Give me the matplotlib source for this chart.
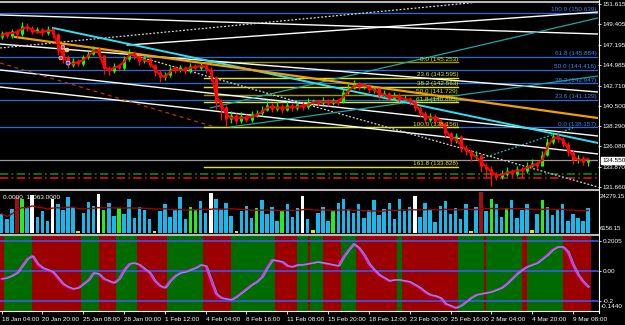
import numpy as np
import pandas as pd
import matplotlib.pyplot as plt
from matplotlib.lines import Line2D

plt.rcParams['font.family'] = ['Liberation Sans', 'DejaVu Sans']

# ------------------------------------------------------------------ data
time_labels = ["18 Jan 04:00", "20 Jan 20:00", "25 Jan 08:00", "28 Jan 00:00",
               "1 Feb 12:00", "4 Feb 04:00", "8 Feb 16:00", "11 Feb 08:00",
               "15 Feb 20:00", "18 Feb 12:00", "23 Feb 00:00", "25 Feb 16:00",
               "2 Mar 04:00", "4 Mar 20:00", "9 Mar 08:00"]
bars_per_label = 8

first_open = 148.0
closes = [148.4, 148.1, 148.7, 148.3, 149.2, 149.0, 148.6, 148.9, 148.4, 148.9,
          148.3, 146.6, 145.8, 145.0, 145.4, 145.1, 145.8, 146.2, 146.7, 146.0,
          144.6, 144.3, 144.9, 144.6, 145.6, 146.3, 145.9, 145.4, 145.7, 145.0,
          144.2, 143.7, 143.9, 144.5, 144.4, 144.7, 144.3, 144.9, 144.6, 145.0,
          144.5, 143.6, 140.9, 140.4, 139.1, 139.5, 138.9, 139.4, 139.0, 139.6,
          139.7, 140.1, 140.6, 140.2, 140.5, 140.1, 140.6, 140.3, 140.7, 140.4,
          140.9, 141.0, 140.8, 141.2, 140.8, 141.1, 140.9, 142.0, 142.5, 142.9,
          142.6, 142.7, 142.2, 142.4, 141.7, 141.9, 141.3, 141.7, 141.2, 141.4,
          140.9, 140.3, 139.7, 139.0, 139.4, 138.9, 138.6, 137.5, 136.8, 137.2,
          135.9, 135.6, 135.0, 135.2, 134.0, 133.6, 133.0, 132.8, 133.1, 133.4,
          133.1, 133.6, 133.4, 134.0, 134.3, 134.0, 135.2, 136.6, 137.2, 136.9,
          136.4, 135.5, 134.6, 134.8, 134.4, 134.55]
highs = [148.7, 148.6, 148.9, 148.9, 149.6, 149.5, 149.2, 149.1, 149.0, 149.2,
         149.0, 148.4, 146.9, 146.0, 145.7, 145.6, 146.0, 146.5, 147.0, 146.9,
         146.1, 144.9, 145.2, 145.1, 145.9, 146.7, 146.5, 146.1, 146.0, 145.8,
         145.1, 144.4, 144.2, 144.8, 144.8, 145.0, 144.9, 145.2, 145.1, 145.3,
         145.2, 144.7, 143.8, 141.3, 140.6, 139.9, 139.7, 139.8, 139.6, 139.9,
         140.1, 140.5, 141.0, 140.8, 141.0, 140.7, 141.0, 140.8, 141.0, 140.9,
         141.4, 141.3, 141.2, 141.5, 141.3, 141.4, 141.3, 142.3, 142.9, 143.3,
         143.1, 143.0, 142.9, 142.7, 142.5, 142.2, 142.0, 142.0, 141.9, 141.7,
         141.5, 141.1, 140.5, 139.9, 139.7, 139.6, 139.1, 138.8, 137.7, 137.6,
         137.3, 136.2, 135.8, 135.6, 135.3, 134.3, 133.9, 133.3, 133.5, 133.8,
         133.6, 134.0, 133.8, 134.4, 134.7, 134.5, 135.6, 137.0, 137.6, 137.5,
         137.1, 136.6, 135.7, 135.1, 135.0, 134.8]
lows = [147.8, 147.9, 147.9, 148.0, 148.1, 148.7, 148.3, 148.4, 148.1, 148.2,
        147.9, 146.1, 145.2, 144.6, 144.7, 144.8, 144.9, 145.6, 146.0, 145.7,
        144.0, 143.9, 144.1, 144.3, 144.4, 145.4, 145.6, 145.0, 145.2, 144.7,
        143.8, 143.1, 143.3, 143.7, 144.1, 144.2, 144.0, 144.1, 144.3, 144.4,
        144.1, 143.2, 140.2, 139.0, 138.3, 138.6, 138.5, 138.6, 138.7, 138.8,
        139.3, 139.5, 139.9, 139.8, 139.9, 139.7, 139.9, 140.0, 140.1, 140.1,
        140.2, 140.6, 140.5, 140.6, 140.5, 140.6, 140.6, 140.8, 141.8, 142.3,
        142.2, 142.3, 141.9, 141.9, 141.3, 141.4, 141.0, 141.1, 140.9, 141.0,
        140.6, 139.9, 139.3, 138.6, 138.8, 138.5, 138.2, 137.1, 136.3, 136.5,
        135.5, 135.1, 134.5, 134.7, 133.3, 132.8, 131.8, 132.4, 132.5, 132.9,
        132.7, 132.9, 132.6, 133.2, 133.8, 133.6, 133.9, 135.0, 136.4, 136.6,
        136.0, 135.0, 134.2, 134.3, 134.1, 133.9]
ma_line = [148.2, 148.45, 148.45, 148.55, 148.9, 149.1, 148.8, 148.55, 148.55, 148.7,
           148.7, 147.25, 145.95, 145.2, 145.1, 145.3, 145.5, 145.95, 146.5, 146.4,
           144.85, 144.4, 144.65, 144.85, 145.3, 146.05, 146.15, 145.6, 145.5, 145.3,
           144.5, 143.9, 143.65, 144.2, 144.65, 144.4, 144.5, 144.65, 144.75, 144.85,
           144.75, 144.2, 141.7, 140.7, 139.6, 139.2, 139.2, 139.2, 139.2, 139.3,
           139.5, 139.85, 140.3, 140.4, 140.3, 140.3, 140.3, 140.4, 140.4, 140.5,
           140.6, 140.85, 140.95, 140.95, 140.95, 140.95, 140.95, 141.5, 142.15, 142.6,
           142.8, 142.8, 142.5, 142.25, 141.9, 141.7, 141.5, 141.5, 141.4, 141.25,
           141.15, 140.7, 140.05, 139.3, 139.2, 139.2, 138.95, 137.9, 137.1, 136.9,
           136.25, 135.8, 135.35, 134.95, 134.4, 133.85, 133.3, 132.95, 132.95, 133.2,
           133.3, 133.4, 133.5, 133.75, 134.05, 134.15, 134.6, 136.0, 136.9, 137.1,
           136.8, 135.9, 135.05, 134.6, 134.6, 134.7]

price_ticks = [151.615, 149.405, 147.195, 144.985, 142.710, 140.500, 138.290,
               136.080, 133.870, 131.660]
bid = 134.550

volumes = [14500, 12000, 16500, 21500, 21000, 17000, 22500, 13000, 15500, 11500,
           21000, 18500, 16000, 21500, 17500, 6900, 15000, 19500, 18000, 23000,
           16000, 19000, 13500, 17000, 14500, 21000, 12500, 17500, 16000, 12000,
           7000, 15500, 18500, 13000, 16500, 21500, 12000, 17500, 16000, 20000,
           15000, 23500, 21000, 16500, 19000, 13500, 7200, 15500, 18000, 12500,
           17000, 20500, 14500, 17500, 11500, 16000, 18500, 13000, 17000, 22000,
           12000, 7500, 15000, 17500, 11500, 15500, 19000, 21000, 16500, 15000,
           18500, 12500, 16000, 20500, 14000, 16500, 19000, 12000, 21000, 15500,
           17500, 22000, 13000, 19000, 16000, 11000, 18000, 20000, 14500, 17000,
           12000, 18500, 7000, 17500, 24000, 15500, 21000, 18500, 13000, 17000,
           20500, 12500, 16000, 18500, 7300, 14500, 20500, 17500, 14000, 16500,
           18500, 11500, 14500, 12500, 11500, 17000]
lime_vol = [4, 20, 23, 37, 38, 50, 55, 65, 96, 99, 106]
white_vol = [6, 10, 19, 41, 59, 81]
yellow_vol = [15, 30, 46, 61, 92, 104]
red_vol = [3, 94]
vol_range = (6156.15, 24279.15)

osc = [-0.053, -0.047, -0.033, -0.013, 0.033, 0.080, 0.100, 0.047, 0.020, 0.007,
       -0.007, -0.047, -0.087, -0.107, -0.120, -0.113, -0.087, -0.060, -0.013, -0.020,
       -0.053, -0.067, -0.080, -0.053, 0.007, 0.047, 0.053, 0.040, 0.013, -0.013,
       -0.067, -0.100, -0.113, -0.067, -0.033, -0.013, -0.007, 0.007, 0.020, 0.040,
       0.033, -0.060, -0.153, -0.180, -0.187, -0.193, -0.173, -0.147, -0.120, -0.093,
       -0.073, -0.040, 0.020, 0.073, 0.067, 0.060, 0.033, 0.027, 0.040, 0.040,
       0.047, 0.053, 0.060, 0.053, 0.047, 0.040, 0.033, 0.093, 0.140, 0.180,
       0.153, 0.107, 0.047, 0.007, -0.027, -0.047, -0.067, -0.060, -0.060, -0.067,
       -0.073, -0.093, -0.113, -0.140, -0.160, -0.167, -0.180, -0.220, -0.233, -0.247,
       -0.233, -0.207, -0.180, -0.160, -0.153, -0.147, -0.140, -0.127, -0.113, -0.087,
       -0.053, -0.020, 0.007, 0.027, 0.040, 0.053, 0.080, 0.107, 0.140, 0.160,
       0.160, 0.127, 0.040, -0.027, -0.073, -0.107]
osc_levels = [0.2, 0.0, -0.2]
band_edges = [-0.5, 0.5, 6, 15.5, 19, 22.5, 26.5, 32.5, 39.5, 45, 53.5, 58, 60, 60.5,
              63, 66.5, 69.5, 77.5, 78.5, 89.5, 94.5, 95, 102, 103, 110, 115.5]

# fibonacci objects
fib_blue_levels = [150.639, 145.884, 144.416, 142.947, 141.129, 138.157]
fib_blue_names = ["100.0", "61.8", "50.0", "38.2", "23.6", "0.0"]
fib_yel_levels = [145.253, 143.595, 142.563, 141.729, 140.895, 138.156, 133.828]
fib_yel_names = ["0.0", "23.6", "38.2", "50.0", "61.8", "100.0", "161.8"]
fib_yel_span = (39.7, 89.5)

# trend lines: (bar0, price0, bar1, price1)
white_lines = [(-0.3, 150.42, 116.9, 148.34), (24.6, 147.14, 116.9, 150.74),
               (-0.3, 147.25, 116.9, 142.02), (-0.3, 144.42, 116.9, 137.22),
               (-0.3, 142.56, 116.9, 135.26)]
white_dotted = [(-0.3, 146.82, 97.7, 152.05), (25.7, 146.05, 116.9, 131.66)]
cyan_line = (10.06, 149.0, 116.9, 136.46)
orange_line = (2.6, 148.02, 116.9, 139.18)
teal_lines = [(40.9, 140.28, 116.9, 150.09), (44.8, 138.2, 116.9, 143.76)]
teal_dotted = (94.4, 134.82, 112.0, 138.09)
fib_trend = (-0.3, 145.18, 41.8, 138.2)
green_level = 133.08
red_level = 132.64
arrows_x = [11.6, 12.0, 12.8, 13.0]
arrows_y = [145.73, 146.92, 146.6, 145.18]

# ------------------------------------------------------------------ figure
W, H = 625, 325
fig = plt.figure(figsize=(W / 100, H / 100), dpi=100, facecolor='black')


def px_axes(x0, y0, x1, y1):
    ax = fig.add_axes([x0 / W, 1 - y1 / H, (x1 - x0) / W, (y1 - y0) / H])
    ax.set_facecolor('black')
    for s in ax.spines.values():
        s.set_visible(False)
    ax.set_xlim(-0.33, 116.92)
    return ax


FS = 4.6
n = len(closes)
x = np.arange(n)
opens = np.array([first_open] + closes[:-1])
closes_a = np.array(closes)

# ---- price panel
ax = px_axes(0, 3, 598, 189)
ax.set_ylim(131.44, 151.724)

for lv in fib_blue_levels:
    ax.axhline(lv, color='#1f6fd8', lw=0.9, zorder=1)
for lv, nm in zip(fib_blue_levels, fib_blue_names):
    ax.text(116.6, lv + 0.08, f"{nm} ({lv:.3f})", color='#3b86f0', fontsize=FS,
            ha='right', va='bottom', zorder=6)

for i, lv in enumerate(fib_yel_levels):
    col = '#9a9a00' if fib_yel_names[i] in ("0.0", "50.0") else '#e6e600'
    ax.plot(fib_yel_span, [lv, lv], color=col, lw=1.0, zorder=2)
    ax.text(fib_yel_span[1], lv + 0.08, f"{fib_yel_names[i]} ({lv:.3f})",
            color='#e8e800', fontsize=FS, ha='right', va='bottom', zorder=6)

ax.axhline(bid, color='#9a9a9a', lw=0.9, zorder=1)
ax.axhline(green_level, color='#0a8a0a', lw=1.2, ls=(0, (5, 2, 1, 2)), zorder=1)
ax.axhline(red_level, color='#e01010', lw=1.2, ls=(0, (5, 2, 1, 2)), zorder=1)

for x0, p0, x1, p1 in white_lines:
    ax.plot([x0, x1], [p0, p1], color='white', lw=1.0, zorder=2)
for x0, p0, x1, p1 in white_dotted:
    ax.plot([x0, x1], [p0, p1], color='#d8d8d8', lw=0.9, ls=(0, (1.5, 1.5)), zorder=2)
for x0, p0, x1, p1 in teal_lines:
    ax.plot([x0, x1], [p0, p1], color='#1aa6a6', lw=0.9, zorder=2)
ax.plot(teal_dotted[::2], teal_dotted[1::2], color='#20c0c0', lw=0.9,
        ls=(0, (1.5, 1.5)), zorder=2)
ax.plot(cyan_line[::2], cyan_line[1::2], color='#30e0f0', lw=1.4, zorder=2)
ax.plot(orange_line[::2], orange_line[1::2], color='#f0a000', lw=1.6, zorder=2)
ax.plot(fib_trend[::2], fib_trend[1::2], color='#c83200', lw=0.9,
        ls=(0, (3, 3)), zorder=2)

up = closes_a >= opens
cols = np.where(up, '#00ff00', '#ff1010')
ax.vlines(x, lows, highs, colors=cols, lw=0.9, zorder=3)
ax.vlines(x, np.minimum(opens, closes_a), np.maximum(opens, closes_a),
          colors=cols, lw=2.2, zorder=3)
ax.plot(x, ma_line, color='#ff0000', lw=1.5, zorder=4)
ax.scatter(arrows_x, arrows_y, s=8, c=['#ff3030', '#ff3030', '#f0d040', '#2050ff'],
           edgecolors='white', linewidths=0.4, zorder=5)

ax.set_xticks([])
ax.yaxis.tick_right()
ax.set_yticks(price_ticks, [f"{p:.3f}" for p in price_ticks])
ax.tick_params(axis='y', colors='white', labelsize=FS, length=2, width=0.6, pad=1.5)
ax.annotate(f"{bid:.3f}", xy=(1.0, bid), xycoords=('axes fraction', 'data'),
            xytext=(3, 0), textcoords='offset points', fontsize=FS, color='black',
            va='center', ha='left',
            bbox=dict(boxstyle='square,pad=0.15', fc='white', ec='white'))

# ---- volume panel
axv = px_axes(0, 191, 598, 233)
axv.set_ylim(*vol_range)
vcol = ['#18b8ea'] * n
for i in lime_vol:
    vcol[i] = '#20f020'
for i in white_vol:
    vcol[i] = 'white'
for i in yellow_vol:
    vcol[i] = '#f0e000'
for i in red_vol:
    vcol[i] = '#a01010'
axv.bar(x, volumes, width=0.7, color=vcol, bottom=0, zorder=2)
vol_ma = pd.Series(volumes).rolling(30, min_periods=1).mean()
axv.plot(x, vol_ma, color='#a00000', lw=1.0, zorder=3)
axv.set_xticks([])
axv.set_yticks([])
axv.text(0.005, 0.9, "0.0000  11063.0000", transform=axv.transAxes, color='white',
         fontsize=FS, ha='left', va='top')
fig.text(599.5 / W, 1 - 196 / H, "24279.15", color='white', fontsize=4.3, va='center')
fig.text(599.5 / W, 1 - 229 / H, "6156.15", color='white', fontsize=4.3, va='center')

# ---- oscillator panel
axo = px_axes(0, 236, 598, 311)
axo.set_ylim(-0.267, 0.233)
cband = ['#9c0000', '#006c00']
for k in range(len(band_edges) - 1):
    axo.axvspan(band_edges[k], band_edges[k + 1], color=cband[k % 2], lw=0, zorder=0)
for lv in osc_levels:
    axo.axhline(lv, color='#3d5cff', lw=1.1, zorder=1)
axo.plot(x, osc, color='#ff20ff', lw=1.4, zorder=2)
axo.plot(x + 0.3, osc, color='#30c8e0', lw=0.6, zorder=3)
axo.yaxis.tick_right()
axo.set_yticks(osc_levels, ["0.2005", "0.00", "-0.2"])
axo.tick_params(axis='y', colors='white', labelsize=FS, length=2, width=0.6, pad=1.5)
fig.text(601 / W, 1 - 307 / H, "-0.1440", color='white', fontsize=FS, va='center')
axo.set_xticks(np.arange(len(time_labels)) * bars_per_label)
axo.set_xticklabels(time_labels, ha='left')
axo.tick_params(axis='x', colors='white', labelsize=FS, length=2.5, width=0.6, pad=1.5)
axo.spines['bottom'].set_visible(True)
axo.spines['bottom'].set_color('white')

# ---- frame / separators
for yy in (1.5, 190, 234.5):
    fig.add_artist(Line2D([0, 598 / W], [1 - yy / H] * 2, color='#b8b8b8', lw=1.5))
fig.add_artist(Line2D([598.5 / W] * 2, [1 - 313 / H, 1], color='white', lw=0.8))

fig.savefig('out.png', dpi=100, facecolor='black')
